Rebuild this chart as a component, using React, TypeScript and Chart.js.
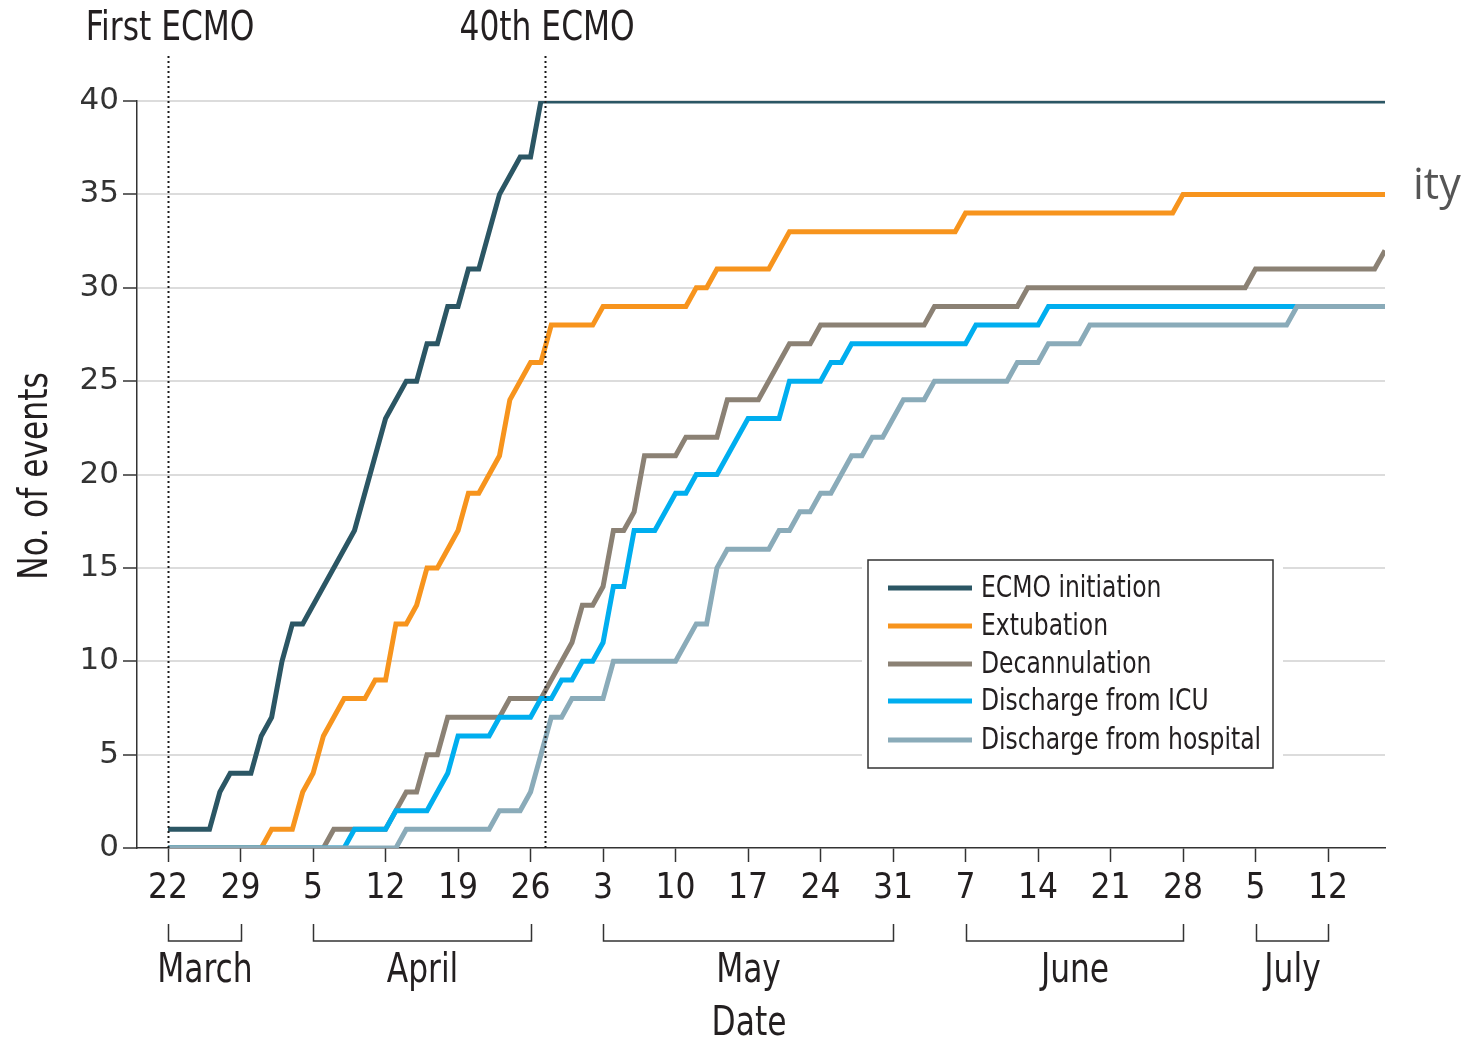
import React, { useEffect, useRef } from "react";
import { Chart, registerables } from "chart.js";

Chart.register(...registerables);

// ---- Data (day 0 = March 22) ----
const tickDays = [0, 7, 14, 21, 28, 35, 42, 49, 56, 63, 70, 77, 84, 91, 98, 105, 112];
const tickLabels = ["22", "29", "5", "12", "19", "26", "3", "10", "17", "24", "31", "7", "14", "21", "28", "5", "12"];
const months = ["March", "April", "May", "June", "July"];
const monthStartDays = [0, 14, 42, 77, 105];
const monthEndDays = [7, 35, 70, 98, 112];
const markerDays = [0, 36.4];
const markerLabels = ["First ECMO", "40th ECMO"];
const yTicks = [0, 5, 10, 15, 20, 25, 30, 35, 40];

const seriesNames = ["ECMO initiation", "Extubation", "Decannulation", "Discharge from ICU", "Discharge from hospital"];
const seriesColors = ["#2b5664", "#f7941d", "#8b8174", "#00aeef", "#8aabb9"];

const ecmoDays = [0, 4, 5, 6, 8, 9, 10, 11, 12, 13, 18, 21, 23, 24, 25, 26, 27, 28, 29, 30, 32, 34, 35, 36, 117.5];
const ecmoValues = [1, 1, 3, 4, 4, 6, 7, 10, 12, 12, 17, 23, 25, 25, 27, 27, 29, 29, 31, 31, 35, 37, 37, 40, 40];

const extubationDays = [0, 9, 10, 12, 13, 14, 15, 17, 19, 20, 21, 22, 23, 24, 25, 26, 28, 29, 30, 32, 33, 35, 36, 37, 41, 42, 50, 51, 52, 53, 58, 60, 76, 77, 97, 98, 117.5];
const extubationValues = [0, 0, 1, 1, 3, 4, 6, 8, 8, 9, 9, 12, 12, 13, 15, 15, 17, 19, 19, 21, 24, 26, 26, 28, 28, 29, 29, 30, 30, 31, 31, 33, 33, 34, 34, 35, 35];

const decannulationDays = [0, 15, 16, 21, 22, 23, 24, 25, 26, 27, 32, 33, 36, 39, 40, 41, 42, 43, 44, 45, 46, 49, 50, 53, 54, 57, 60, 62, 63, 73, 74, 82, 83, 104, 105, 116.5, 117.5];
const decannulationValues = [0, 0, 1, 1, 2, 3, 3, 5, 5, 7, 7, 8, 8, 11, 13, 13, 14, 17, 17, 18, 21, 21, 22, 22, 24, 24, 27, 27, 28, 28, 29, 29, 30, 30, 31, 31, 32];

const icuDays = [0, 17, 18, 21, 22, 25, 27, 28, 31, 32, 35, 36, 37, 38, 39, 40, 41, 42, 43, 44, 45, 47, 49, 50, 51, 53, 56, 59, 60, 63, 64, 65, 66, 77, 78, 84, 85, 117.5];
const icuValues = [0, 0, 1, 1, 2, 2, 4, 6, 6, 7, 7, 8, 8, 9, 9, 10, 10, 11, 14, 14, 17, 17, 19, 19, 20, 20, 23, 23, 25, 25, 26, 26, 27, 27, 28, 28, 29, 29];

const hospitalDays = [0, 22, 23, 31, 32, 34, 35, 36, 37, 38, 39, 42, 43, 49, 51, 52, 53, 54, 58, 59, 60, 61, 62, 63, 64, 66, 67, 68, 69, 71, 73, 74, 81, 82, 84, 85, 88, 89, 108, 109, 117.5];
const hospitalValues = [0, 0, 1, 1, 2, 2, 3, 5, 7, 7, 8, 8, 10, 10, 12, 12, 15, 16, 16, 17, 17, 18, 18, 19, 19, 21, 21, 22, 22, 24, 24, 25, 25, 26, 26, 27, 27, 28, 28, 29, 29];

const allDays = [ecmoDays, extubationDays, decannulationDays, icuDays, hospitalDays];
const allValues = [ecmoValues, extubationValues, decannulationValues, icuValues, hospitalValues];

const NARROW = '"Liberation Sans Narrow", "DejaVu Sans Condensed", "Arial Narrow", sans-serif';
const TEXT = "#231f20";
const SQUEEZE = 0.87;

function narrowText(ctx: any, text: string, x: number, y: number, size: number, align: string) {
  ctx.save();
  ctx.font = `${size}px ${NARROW}`;
  ctx.textAlign = align;
  ctx.translate(x, y);
  ctx.scale(SQUEEZE, 1);
  ctx.fillText(text, 0, 0);
  ctx.restore();
}

const overlayPlugin = {
  id: "overlay",
  afterDraw(chart: any) {
    const { ctx, chartArea, scales } = chart;
    const xs = scales.x;
    ctx.save();

    // dotted markers
    ctx.strokeStyle = "#1a1a1a";
    ctx.lineWidth = 2;
    ctx.setLineDash([2, 3]);
    markerDays.forEach((d) => {
      const x = Math.round(xs.getPixelForValue(d)) + 0.5;
      ctx.beginPath();
      ctx.moveTo(x, 56);
      ctx.lineTo(x, chartArea.bottom);
      ctx.stroke();
    });
    ctx.setLineDash([]);

    ctx.fillStyle = TEXT;
    ctx.textBaseline = "middle";
    markerDays.forEach((d, i) => {
      narrowText(ctx, markerLabels[i], xs.getPixelForValue(d) + 2, 30, 40, "center");
    });

    // month brackets
    ctx.strokeStyle = "#333";
    ctx.lineWidth = 1.5;
    months.forEach((m, i) => {
      const x1 = Math.round(xs.getPixelForValue(monthStartDays[i])) + 0.5;
      const x2 = Math.round(xs.getPixelForValue(monthEndDays[i])) + 0.5;
      ctx.beginPath();
      ctx.moveTo(x1, 924);
      ctx.lineTo(x1, 941);
      ctx.lineTo(x2, 941);
      ctx.lineTo(x2, 924);
      ctx.stroke();
      narrowText(ctx, m, (x1 + x2) / 2, 972, 40, "center");
    });
    narrowText(ctx, "Date", 749, 1025, 40, "center");

    // y title
    ctx.save();
    ctx.translate(37, 476);
    ctx.rotate(-Math.PI / 2);
    narrowText(ctx, "No. of events", 0, 0, 40, "center");
    ctx.restore();

    // legend
    const lx = 868, ly = 560, lw = 405, lh = 208;
    ctx.fillStyle = "#ffffff";
    ctx.fillRect(lx - 6, ly - 6, lw + 16, lh + 12);
    ctx.strokeStyle = "#333";
    ctx.lineWidth = 1.5;
    ctx.strokeRect(lx, ly, lw, lh);
    const rowY = [588, 626, 664, 701, 740];
    seriesNames.forEach((name, i) => {
      ctx.strokeStyle = seriesColors[i];
      ctx.lineWidth = 5;
      ctx.beginPath();
      ctx.moveTo(888, rowY[i]);
      ctx.lineTo(972, rowY[i]);
      ctx.stroke();
      ctx.fillStyle = TEXT;
      narrowText(ctx, name, 981, rowY[i] + 1, 30, "left");
    });

    // stray fragment at right
    ctx.fillStyle = "#555555";
    ctx.font = '43px "Open Sans", "Noto Sans", sans-serif';
    ctx.textAlign = "left";
    ctx.textBaseline = "alphabetic";
    ctx.fillText("ity", 1413, 199);

    ctx.restore();
  },
};

export default function App() {
  const canvasRef = useRef<HTMLCanvasElement | null>(null);

  useEffect(() => {
    const canvas = canvasRef.current;
    if (!canvas) return;
    const datasets = seriesNames.map((name, i) => ({
      label: name,
      data: allDays[i].map((d, j) => ({ x: d, y: allValues[i][j] })),
      borderColor: seriesColors[i],
      backgroundColor: seriesColors[i],
      borderWidth: 5,
      pointRadius: 0,
      tension: 0,
      fill: false,
      order: seriesNames.length - i,
    }));

    const chart = new Chart(canvas, {
      type: "line",
      data: { datasets },
      options: {
        animation: false,
        responsive: false,
        devicePixelRatio: 1,
        layout: { padding: { left: 0, top: 101, right: 95, bottom: 0 } },
        plugins: { legend: { display: false }, tooltip: { enabled: false } },
        scales: {
          x: {
            type: "linear",
            min: -3,
            max: 117.5,
            afterFit: (s: any) => {
              s.height = 195;
            },
            afterBuildTicks: (s: any) => {
              s.ticks = tickDays.map((v) => ({ value: v }));
            },
            border: { display: true, color: "#333", width: 1.5 },
            grid: {
              drawOnChartArea: false,
              drawTicks: true,
              tickLength: 14,
              tickColor: "#333",
              tickWidth: 1.5,
            },
            ticks: {
              autoSkip: false,
              maxRotation: 0,
              padding: 6,
              color: TEXT,
              font: { family: NARROW, size: 35 },
              callback: (v: any) => {
                const idx = tickDays.indexOf(Number(v));
                return idx >= 0 ? tickLabels[idx] : "";
              },
            },
          },
          y: {
            type: "linear",
            min: 0,
            max: 40,
            afterFit: (s: any) => {
              s.width = 137;
            },
            afterBuildTicks: (s: any) => {
              s.ticks = yTicks.map((v) => ({ value: v }));
            },
            border: { display: true, color: "#333", width: 1.5 },
            grid: {
              color: (c: any) => (c.tick && c.tick.value === 0 ? "rgba(0,0,0,0)" : "#dcdcdc"),
              lineWidth: 2,
              drawTicks: true,
              tickLength: 14,
              tickColor: "#333",
              tickWidth: 1.5,
            },
            ticks: {
              padding: 4,
              color: "#333",
              font: { family: '"DejaVu Sans", sans-serif', size: 31 },
            },
          },
        },
      },
      plugins: [overlayPlugin],
    });
    return () => chart.destroy();
  }, []);

  return (
    <div style={{ position: "absolute", left: 0, top: 0, width: 1480, height: 1043, background: "#fff" }}>
      <canvas ref={canvasRef} width={1480} height={1043} style={{ width: 1480, height: 1043, display: "block" }} />
    </div>
  );
}
